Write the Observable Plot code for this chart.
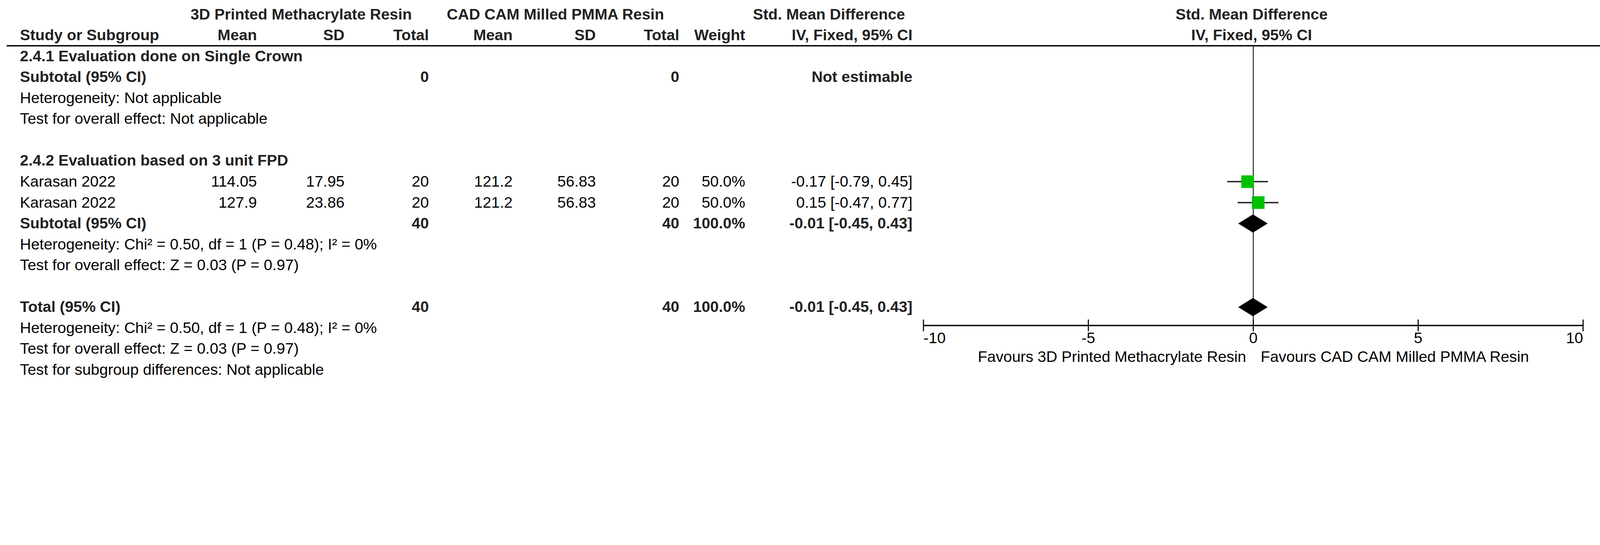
<!DOCTYPE html>
<html>
<head>
<meta charset="utf-8">
<script src="https://cdn.jsdelivr.net/npm/d3@7"></script>
<script src="https://cdn.jsdelivr.net/npm/@observablehq/plot@0.6"></script>
<style>
  html, body { margin: 0; padding: 0; background: #fff; }
  svg { display: block; }
</style>
</head>
<body>
<div id="chart"></div>
<script>
// ---------------- DATA ----------------
const groupHeaders = ["3D Printed Methacrylate Resin", "CAD CAM Milled PMMA Resin", "Std. Mean Difference"];
const colHeaders = ["Study or Subgroup", "Mean", "SD", "Total", "Mean", "SD", "Total", "Weight", "IV, Fixed, 95% CI"];
const plotHeaders = ["Std. Mean Difference", "IV, Fixed, 95% CI"];
const subgroupTitles = ["2.4.1 Evaluation done on Single Crown", "2.4.2 Evaluation based on 3 unit FPD"];

// subgroup 2.4.1 (no studies)
const sub1Totals = [0, 0];
const sub1Result = "Not estimable";
const sub1Footers = ["Heterogeneity: Not applicable", "Test for overall effect: Not applicable"];

// studies of subgroup 2.4.2
const studyNames = ["Karasan 2022", "Karasan 2022"];
const expMean = [114.05, 127.9];
const expSD = [17.95, 23.86];
const expTotal = [20, 20];
const ctlMean = [121.2, 121.2];
const ctlSD = [56.83, 56.83];
const ctlTotal = [20, 20];
const weights = [50.0, 50.0];
const smd = [-0.17, 0.15];
const ciLow = [-0.79, -0.47];
const ciHigh = [0.45, 0.77];

// pooled results (subtotal 2.4.2, overall total)
const pooledLabels = ["Subtotal (95% CI)", "Total (95% CI)"];
const pooledExpTotal = [40, 40];
const pooledCtlTotal = [40, 40];
const pooledWeight = [100.0, 100.0];
const pooledEst = [-0.01, -0.01];
const pooledLow = [-0.45, -0.45];
const pooledHigh = [0.43, 0.43];

const sub2Footers = ["Heterogeneity: Chi\u00B2 = 0.50, df = 1 (P = 0.48); I\u00B2 = 0%", "Test for overall effect: Z = 0.03 (P = 0.97)"];
const totalFooters = ["Heterogeneity: Chi\u00B2 = 0.50, df = 1 (P = 0.48); I\u00B2 = 0%", "Test for overall effect: Z = 0.03 (P = 0.97)", "Test for subgroup differences: Not applicable"];

const xTicks = [-10, -5, 0, 5, 10];
const favoursLabels = ["Favours 3D Printed Methacrylate Resin", "Favours CAD CAM Milled PMMA Resin"];

// ---------------- LAYOUT ----------------
const W = 5826, H = 1396;
const FONT = "'Liberation Sans', Arial, Helvetica, sans-serif";
const FS = 56;
const rowOrder = ["head1", "head2", "sg1", "sub1", "het1", "test1", "gap1",
  "sg2", "study1", "study2", "sub2", "het2", "test2", "gap2",
  "total", "het3", "test3", "subdiff"];
const R = k => rowOrder.indexOf(k);
const axisRow = R("total") + 0.88;
const headerLineRow = 1.5;

const cols = {
  study:   {x: 72,   anchor: "start"},
  expMean: {x: 935,  anchor: "end"},
  expSD:   {x: 1254, anchor: "end"},
  expN:    {x: 1561, anchor: "end"},
  ctlMean: {x: 1866, anchor: "end"},
  ctlSD:   {x: 2169, anchor: "end"},
  ctlN:    {x: 2473, anchor: "end"},
  weight:  {x: 2713, anchor: "end"},
  ci:      {x: 3322, anchor: "end"},
  grp1:    {x: 1096, anchor: "middle"},
  grp2:    {x: 2022, anchor: "middle"},
  grp3:    {x: 3018, anchor: "middle"}
};
const MARGIN_LEFT = 24;

const fmtCI = (e, l, h) => `${e.toFixed(2)} [${l.toFixed(2)}, ${h.toFixed(2)}]`;

// ---------------- CELLS ----------------
const cells = [];
const add = (row, col, text, bold) => cells.push({row: R(row), col, text: String(text), bold});

["grp1", "grp2", "grp3"].forEach((c, i) => add("head1", c, groupHeaders[i], true));
["study", "expMean", "expSD", "expN", "ctlMean", "ctlSD", "ctlN", "weight", "ci"]
  .forEach((c, i) => add("head2", c, colHeaders[i], true));

add("sg1", "study", subgroupTitles[0], true);
add("sub1", "study", pooledLabels[0], true);
add("sub1", "expN", sub1Totals[0], true);
add("sub1", "ctlN", sub1Totals[1], true);
add("sub1", "ci", sub1Result, true);
add("het1", "study", sub1Footers[0], false);
add("test1", "study", sub1Footers[1], false);

add("sg2", "study", subgroupTitles[1], true);
const studies = studyNames.map((name, i) => ({
  row: R("study" + (i + 1)), smd: smd[i], lo: ciLow[i], hi: ciHigh[i], weight: weights[i]
}));
studyNames.forEach((name, i) => {
  const r = "study" + (i + 1);
  add(r, "study", name, false);
  add(r, "expMean", expMean[i], false);
  add(r, "expSD", expSD[i], false);
  add(r, "expN", expTotal[i], false);
  add(r, "ctlMean", ctlMean[i], false);
  add(r, "ctlSD", ctlSD[i], false);
  add(r, "ctlN", ctlTotal[i], false);
  add(r, "weight", weights[i].toFixed(1) + "%", false);
  add(r, "ci", fmtCI(smd[i], ciLow[i], ciHigh[i]), false);
});

const pooledRows = ["sub2", "total"];
pooledRows.forEach((r, i) => {
  add(r, "study", pooledLabels[i], true);
  add(r, "expN", pooledExpTotal[i], true);
  add(r, "ctlN", pooledCtlTotal[i], true);
  add(r, "weight", pooledWeight[i].toFixed(1) + "%", true);
  add(r, "ci", fmtCI(pooledEst[i], pooledLow[i], pooledHigh[i]), true);
});
add("het2", "study", sub2Footers[0], false);
add("test2", "study", sub2Footers[1], false);
add("het3", "study", totalFooters[0], false);
add("test3", "study", totalFooters[1], false);
add("subdiff", "study", totalFooters[2], false);

// diamonds
const HH = 0.43;
const diamonds = [];
pooledRows.forEach((r, i) => {
  const y = R(r);
  diamonds.push(
    {x: pooledLow[i], y, z: i},
    {x: pooledEst[i], y: y - HH, z: i},
    {x: pooledHigh[i], y, z: i},
    {x: pooledEst[i], y: y + HH, z: i},
    {x: pooledLow[i], y, z: i}
  );
});

// ---------------- MARKS ----------------
const textMarks = [];
for (const [key, c] of Object.entries(cols)) {
  for (const bold of [true, false]) {
    const data = cells.filter(d => d.col === key && d.bold === bold);
    if (!data.length) continue;
    textMarks.push(Plot.text(data, {
      y: "row", text: "text", frameAnchor: "left",
      dx: c.x - MARGIN_LEFT, textAnchor: c.anchor,
      fontWeight: bold ? "bold" : "normal",
      fill: bold ? "#222" : "#000",
      fontSize: FS, fontFamily: FONT
    }));
  }
}

const xMin = d3.min(xTicks), xMax = d3.max(xTicks);

const chart = Plot.plot({
  width: W, height: H,
  marginLeft: MARGIN_LEFT, marginRight: 0, marginTop: 0, marginBottom: 0,
  style: {fontFamily: FONT, fontSize: FS + "px", background: "#fff", color: "#000"},
  x: {domain: [xMin, xMax], range: [3362, 5764], axis: null},
  y: {domain: [0, rowOrder.length - 1], range: [52, 1347], axis: null},
  r: {type: "sqrt", domain: [0, 50], range: [0, 26]},
  marks: [
    // header separator line
    Plot.ruleY([headerLineRow], {stroke: "#000", strokeWidth: 5}),
    // line of no effect
    Plot.ruleX([0], {y1: () => headerLineRow, y2: () => axisRow, stroke: "#222", strokeWidth: 3.5}),
    // axis line and ticks
    Plot.ruleY([axisRow], {x1: () => xMin, x2: () => xMax, stroke: "#000", strokeWidth: 5}),
    Plot.ruleX(xTicks, {x: d => d, y1: () => axisRow - 0.28, y2: () => axisRow + 0.28, stroke: "#000", strokeWidth: 4}),
    Plot.text(xTicks.filter(t => t !== xMin && t !== xMax), {x: d => d, y: () => axisRow, dy: 47, text: d => String(d), textAnchor: "middle", fontSize: FS, fill: "#000"}),
    Plot.text([xMin], {x: d => d, y: () => axisRow, dy: 47, text: d => String(d), textAnchor: "start", fontSize: FS, fill: "#000"}),
    Plot.text([xMax], {x: d => d, y: () => axisRow, dy: 47, text: d => String(d), textAnchor: "end", fontSize: FS, fill: "#000"}),
    Plot.text([favoursLabels[0]], {x: () => 0, y: () => axisRow, dy: 114, dx: -26, text: d => d, textAnchor: "end", fontSize: FS, fill: "#000"}),
    Plot.text([favoursLabels[1]], {x: () => 0, y: () => axisRow, dy: 114, dx: 27, text: d => d, textAnchor: "start", fontSize: FS, fill: "#000"}),
    // plot headers
    Plot.text(plotHeaders, {x: () => 0, y: (d, i) => i, dx: -6, text: d => d, textAnchor: "middle", fontWeight: "bold", fontSize: FS, fill: "#222"}),
    // confidence intervals
    Plot.ruleY(studies, {y: "row", x1: "lo", x2: "hi", stroke: "#222", strokeWidth: 5}),
    // study squares
    Plot.dot(studies, {x: "smd", y: "row", r: "weight", symbol: "square", fill: "#00c000", stroke: null}),
    // pooled diamonds
    Plot.line(diamonds, {x: "x", y: "y", z: "z", fill: "#000", stroke: "#000", strokeWidth: 1}),
    ...textMarks
  ]
});
document.getElementById("chart").appendChild(chart);
</script>
</body>
</html>
